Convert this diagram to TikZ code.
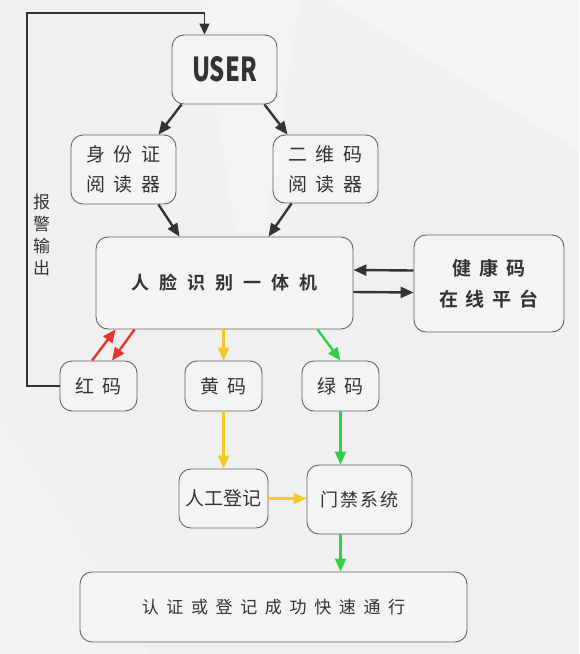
\documentclass[tikz,border=0pt]{standalone}
\usepackage{fontspec}
\setmainfont{Noto Sans CJK SC}[BoldFont={Noto Sans CJK SC Bold}]
\newfontfamily\cjkheavy{Noto Sans CJK SC Black}
\usetikzlibrary{arrows.meta}
\definecolor{bggray}{RGB}{240,240,240}
\definecolor{boxfill}{RGB}{244,244,244}
\definecolor{boxline}{RGB}{100,100,100}
\definecolor{arrowdark}{RGB}{51,51,51}
\definecolor{codered}{RGB}{232,50,46}
\definecolor{codeyellow}{RGB}{245,200,40}
\definecolor{codegreen}{RGB}{46,208,70}

\begin{document}
\begin{tikzpicture}[x=1pt,y=-1pt,
    box/.style={draw=boxline,fill=boxfill,rounded corners=12pt,line width=0.9pt,
      inner sep=0pt,align=center,text=arrowdark},
    wide/.style={font={\fontsize{#1}{30}\selectfont\addfontfeatures{LetterSpace=45}}},
    flow/.style={line width=2.4pt,-{Triangle[length=13pt,width=11pt]}}]
  % background
  \fill[bggray] (0,0) rectangle (579,654) ;
  \fill[white,opacity=0.3] (330,0) -- (579,0) -- (579,150) -- cycle ;
  \fill[white,opacity=0.15] (0,420) -- (150,654) -- (0,654) -- cycle ;
  \fill[white,opacity=0.2] (200,0) -- (300,0) -- (250,330) -- cycle ;
  % nodes
  \node[box,minimum width=105pt,minimum height=69pt] (user) at (224.5,69.5)
    {\cjkheavy\fontsize{33}{33}\selectfont\scalebox{0.72}[1]{USER}} ;
  \node[box,wide=19,minimum width=105pt,minimum height=69pt] (idr) at (123.5,169.5)
    {身份证\\阅读器} ;
  \node[box,wide=19,minimum width=105pt,minimum height=68pt] (qrr) at (325.5,169)
    {二维码\\阅读器} ;
  \node[box,minimum width=257pt,minimum height=92pt,
    font={\bfseries\fontsize{18}{30}\selectfont\addfontfeatures{LetterSpace=55}}]
    (face) at (224.5,283) {人脸识别一体机} ;
  \node[box,minimum width=150pt,minimum height=97pt,
    font={\bfseries\fontsize{19}{31}\selectfont\addfontfeatures{LetterSpace=42}}]
    (health) at (489,283.5) {健康码\\在线平台} ;
  \node[box,wide=19,minimum width=77pt,minimum height=50pt] (red) at (98.5,386) {红码} ;
  \node[box,wide=19,minimum width=77pt,minimum height=50pt] (yellow) at (223.5,386) {黄码} ;
  \node[box,wide=19,minimum width=77pt,minimum height=50pt] (green) at (340.5,386) {绿码} ;
  \node[box,minimum width=89pt,minimum height=59pt,font={\fontsize{19}{30}\selectfont}]
    (manual) at (223.5,498.5) {人工登记} ;
  \node[box,minimum width=105pt,minimum height=69pt,
    font={\fontsize{18}{30}\selectfont\addfontfeatures{LetterSpace=12}}]
    (gate) at (359.5,499.5) {门禁系统} ;
  \node[box,wide=17,minimum width=387pt,minimum height=70pt] (pass) at (273.5,607)
    {认证或登记成功快速通行} ;
  \node[text=arrowdark,align=center,font={\fontsize{17}{22}\selectfont}]
    (alarm) at (41.5,235) {报\\警\\输\\出} ;
  % connectors
  \draw[flow,arrowdark] ([xshift=10pt]user.south west) -- ([xshift=-18pt]idr.north east) ;
  \draw[flow,arrowdark] ([xshift=-13pt]user.south east) -- ([xshift=15pt]qrr.north west) ;
  \draw[flow,arrowdark] ([xshift=-18pt]idr.south east) -- ([xshift=84pt]face.north west) ;
  \draw[flow,arrowdark] ([xshift=19pt]qrr.south west) -- ([xshift=-85pt]face.north east) ;
  \draw[flow,arrowdark] ([yshift=13pt]health.west) -- ([yshift=13pt]face.east) ;
  \draw[flow,arrowdark] ([yshift=-9pt]face.east) -- ([yshift=-9pt]health.west) ;
  \draw[flow,codered] ([xshift=-6.5pt]red.north) -- ([xshift=20pt]face.south west) ;
  \draw[flow,codered] ([xshift=39pt]face.south west) -- ([xshift=13.5pt]red.north) ;
  \draw[flow,codeyellow] (yellow.north |- face.south) -- (yellow.north) ;
  \draw[flow,codegreen] ([xshift=-36pt]face.south east) -- (green.north) ;
  \draw[flow,codeyellow] (yellow.south) -- (manual.north) ;
  \draw[flow,codegreen] (green.south) -- (green.south |- gate.north) ;
  \draw[flow,codeyellow] (manual.east) -- (manual.east -| gate.west) ;
  \draw[flow,codegreen] ([xshift=-19pt]gate.south) -- ([xshift=-19pt]gate.south |- pass.north) ;
  % alarm loop back to the user
  \coordinate (loop) at (27,13) ;
  \draw[arrowdark,line width=1.8pt,-{Triangle[length=11pt,width=10pt]}]
    (red.west) -| (loop) -| ([xshift=-20pt]user.north) ;
\end{tikzpicture}
\end{document}
